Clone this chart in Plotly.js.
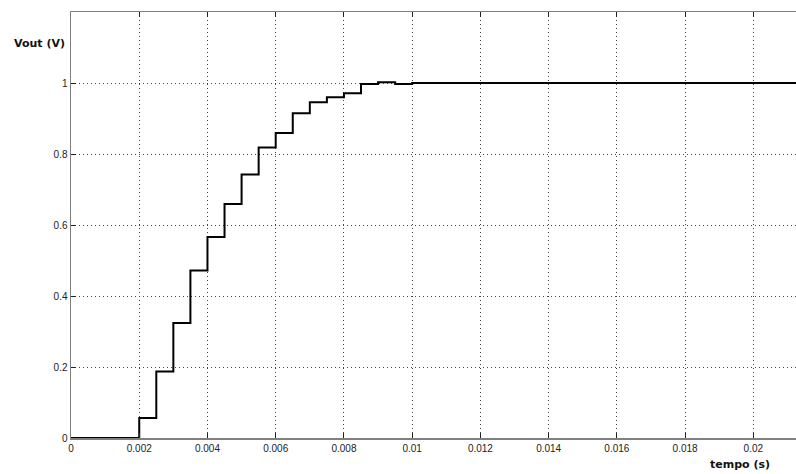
<!DOCTYPE html>
<html>
<head>
<meta charset="utf-8">
<script src="https://cdn.plot.ly/plotly-3.0.1.min.js"></script>
<style>html,body{margin:0;padding:0;background:#fff;}#chart{width:796px;height:474px;}</style>
</head>
<body>
<div id="chart"></div>
<script>
// time (s) at which each step starts
var tempo = [0, 0.002, 0.0025, 0.003, 0.0035, 0.004, 0.0045, 0.005, 0.0055, 0.006, 0.0065, 0.007, 0.0075, 0.008, 0.0085, 0.009, 0.0095, 0.01, 0.0213];
// output voltage (V)
var vout = [0, 0.056, 0.187, 0.324, 0.472, 0.566, 0.659, 0.742, 0.818, 0.859, 0.915, 0.946, 0.960, 0.971, 0.997, 1.002, 0.997, 1.0, 1.0];
var xTicks = [0, 0.002, 0.004, 0.006, 0.008, 0.01, 0.012, 0.014, 0.016, 0.018, 0.02];
var xTickText = ["0", "0.002", "0.004", "0.006", "0.008", "0.01", "0.012", "0.014", "0.016", "0.018", "0.02"];
var yTicks = [0, 0.2, 0.4, 0.6, 0.8, 1];
var yTickText = ["0", "0.2", "0.4", "0.6", "0.8", "1"];

var trace = {
  x: tempo, y: vout, type: 'scatter', mode: 'lines',
  line: {shape: 'hv', color: '#000', width: 2},
  hoverinfo: 'skip'
};
var tickFont = {family: '"Liberation Sans", Arial, sans-serif', size: 10, color: '#222'};
var layout = {
  width: 796, height: 474,
  margin: {l: 71, r: 0, t: 12, b: 36},
  paper_bgcolor: '#fff', plot_bgcolor: '#fff',
  showlegend: false,
  xaxis: {
    range: [0, 0.02125], tickvals: xTicks, ticktext: xTickText,
    showline: true, linecolor: '#808080', linewidth: 1.5, mirror: 'ticks',
    ticks: 'inside', ticklen: 5, tickcolor: '#222', tickwidth: 1,
    showgrid: true, gridcolor: '#444', griddash: '1px,3px', gridwidth: 1,
    zeroline: false, tickfont: tickFont, fixedrange: true
  },
  yaxis: {
    range: [0, 1.2], tickvals: yTicks, ticktext: yTickText,
    showline: true, linecolor: '#808080', linewidth: 1.5, mirror: false,
    ticks: 'inside', ticklen: 5, tickcolor: '#222', tickwidth: 1,
    showgrid: true, gridcolor: '#444', griddash: '1px,3px', gridwidth: 1,
    zeroline: false, tickfont: tickFont, fixedrange: true
  },
  annotations: [
    {text: '<b>Vout (V)</b>', xref: 'paper', yref: 'paper', x: (12 - 71) / 725, y: (438 - 43) / 426,
     xanchor: 'left', yanchor: 'middle', showarrow: false,
     font: {family: '"DejaVu Sans", sans-serif', size: 11, color: '#111'}},
    {text: '<b>tempo (s)</b>', xref: 'paper', yref: 'paper', x: (740 - 71) / 725, y: (438 - 465) / 426,
     xanchor: 'center', yanchor: 'middle', showarrow: false,
     font: {family: '"DejaVu Sans", sans-serif', size: 11, color: '#111'}}
  ]
};
Plotly.newPlot('chart', [trace], layout, {displayModeBar: false, staticPlot: true});
</script>
</body>
</html>
